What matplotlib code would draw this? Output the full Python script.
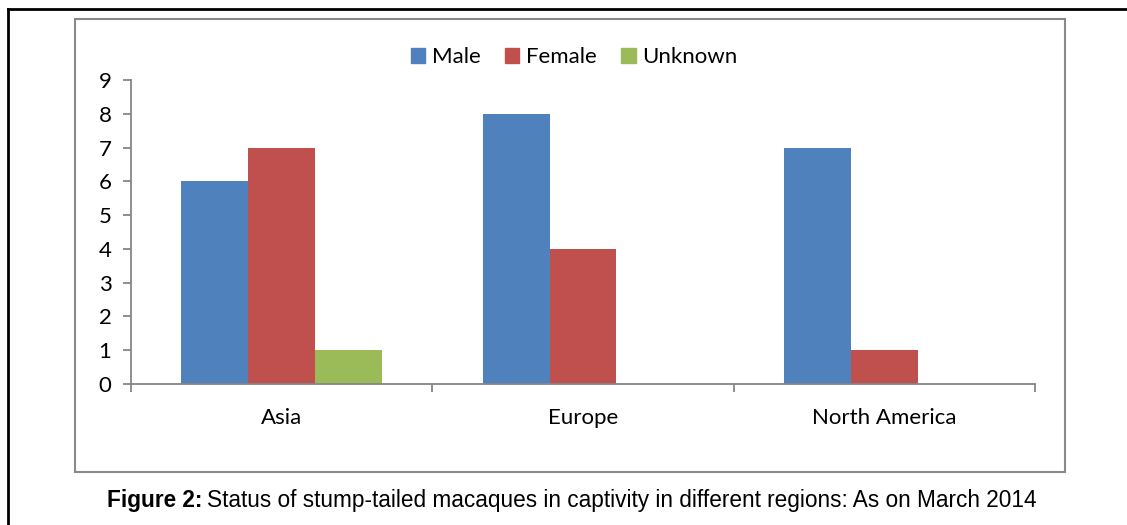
import matplotlib
matplotlib.use('Agg')
import matplotlib.pyplot as plt
import numpy as np
from matplotlib.patches import Rectangle
from matplotlib.lines import Line2D

regions = ['Asia', 'Europe', 'North America']
male = [6, 8, 7]
female = [7, 4, 1]
unknown = [1, 0, 0]
series_names = ['Male', 'Female', 'Unknown']
colors = ['#4F81BD', '#C0504D', '#9BBB59']
yticks = list(range(0, 10))

plt.rcParams['font.family'] = ['Lato', 'DejaVu Sans']
W, H = 1127, 525
fig = plt.figure(figsize=(W / 100, H / 100), dpi=100)
ax = fig.add_axes([131 / W, 1 - 384 / H, (1035 - 131) / W, (384 - 80) / H])

x = np.arange(len(regions))
bw = 0.222
for i, (vals, name, c) in enumerate(zip([male, female, unknown], series_names, colors)):
    ax.bar(x + (i - 1) * bw, vals, width=bw, color=c, label=name, zorder=2)

axis_gray = '#868686'
ax.set_xlim(-0.5, len(regions) - 0.5)
ax.set_ylim(0, 9)
ax.set_yticks(yticks)
ax.set_xticks(x)
ax.set_xticklabels(regions)
ax.set_xticks(np.arange(-0.5, len(regions), 1.0), minor=True)
for s in ['top', 'right']:
    ax.spines[s].set_visible(False)
for s in ['left', 'bottom']:
    ax.spines[s].set_color(axis_gray)
    ax.spines[s].set_linewidth(1.3)
ax.tick_params(axis='y', direction='out', length=6, width=1.3, color=axis_gray,
               labelsize=16, pad=8)
ax.tick_params(axis='x', which='major', length=0, labelsize=16, pad=17)
ax.tick_params(axis='x', which='minor', direction='out', length=6, width=1.3, color=axis_gray)

# legend on top
handles = [Rectangle((0, 0), 1, 1, color=c) for c in colors]
fig.legend(handles, series_names, loc='center', bbox_to_anchor=(574 / W, 1 - 57 / H),
           ncol=3, frameon=False, fontsize=16, handlelength=0.65, handleheight=0.65,
           handletextpad=0.3, columnspacing=1.1)

# chart area border
fig.patches.append(Rectangle((75 / W, 1 - 472 / H), 990 / W, (472 - 19) / H,
                             transform=fig.transFigure, fill=False,
                             edgecolor='#898989', linewidth=1.5))
# outer frame (left and top only visible)
fig.add_artist(Line2D([8 / W, 8 / W], [0, 1 - 9 / H], transform=fig.transFigure,
                      color='black', linewidth=2))
fig.add_artist(Line2D([8 / W, 1], [1 - 9 / H, 1 - 9 / H], transform=fig.transFigure,
                      color='black', linewidth=2))

# caption
cap_font = ['Liberation Sans', 'DejaVu Sans']
t1 = fig.text(107 / W, 1 - 500 / H, 'Figure 2:', fontsize=16.3, fontweight='bold',
              family=cap_font, ha='left', va='center')
fig.canvas.draw()
bb = t1.get_window_extent()
fig.text((bb.x1 + 5) / W, 1 - 500 / H,
         'Status of stump-tailed macaques in captivity in different regions: As on March 2014',
         fontsize=16.3, family=cap_font, ha='left', va='center')

fig.savefig('out.png', dpi=100)
